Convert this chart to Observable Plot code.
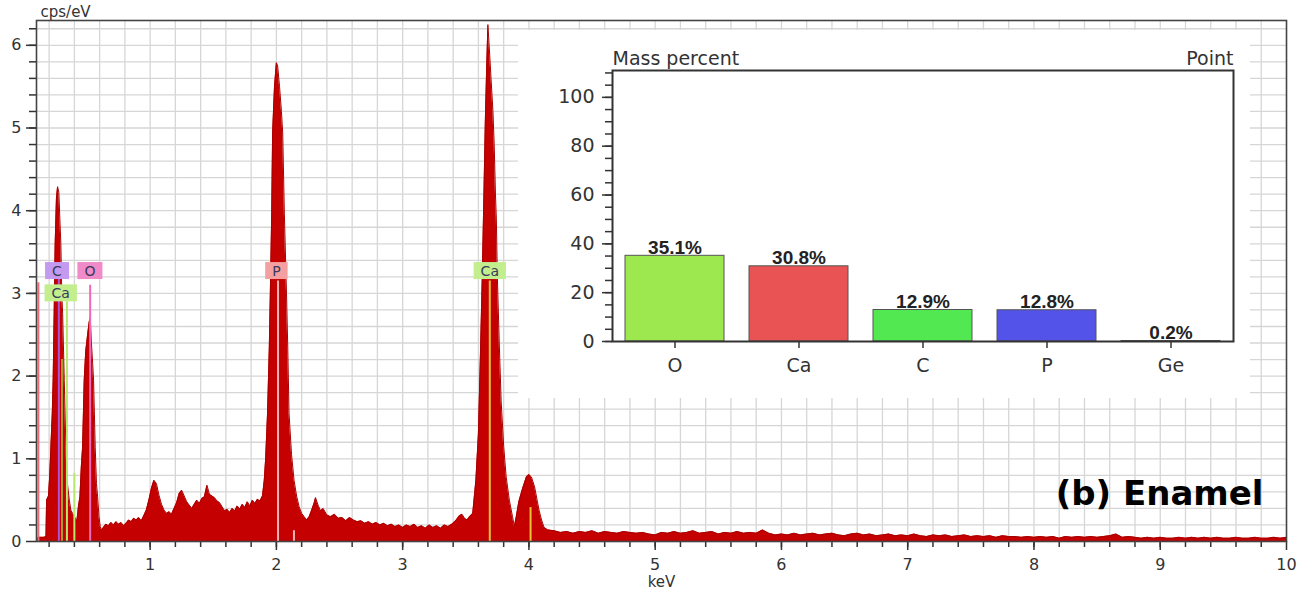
<!DOCTYPE html>
<html><head><meta charset="utf-8">
<script src="https://cdn.jsdelivr.net/npm/d3@7"></script>
<script src="https://cdn.jsdelivr.net/npm/@observablehq/plot@0.6"></script>
<style>
body{margin:0;background:#fff;}
#wrap{position:relative;width:1306px;height:595px;overflow:hidden;background:#fff;}
#inset{position:absolute;left:518px;top:30px;}
#main{position:absolute;left:0;top:0;}
</style></head><body><div id="wrap"><div id="main"></div><div id="inset"></div></div>
<script>
// ---------- Spectrum (keV, cps/eV) ----------
const specKeV = [
0.100,0.120,0.140,0.160,0.175,0.180,0.195,0.205,0.214,0.225,0.232,0.240,0.248,0.258,0.267,0.277,0.285,0.293,0.300,0.307,0.320,0.333,0.345,0.360,0.372,0.386,0.400,0.412,0.420,0.432,0.444,0.455,0.465,0.478,0.490,0.505,0.518,0.526,0.535,0.545,0.552,0.565,0.575,0.584,0.595,0.605,0.615,
0.63,0.65,0.67,0.69,0.71,0.73,0.75,0.77,0.79,0.81,0.83,0.85,0.87,0.89,0.91,0.93,0.95,0.97,0.99,1.01,1.03,1.05,1.07,1.09,1.11,1.13,1.15,1.17,1.19,1.21,1.23,1.25,1.27,1.29,1.31,1.33,1.35,1.37,1.39,1.41,1.43,1.45,1.47,1.49,1.51,1.53,1.55,1.57,1.59,1.61,1.63,1.65,1.67,1.69,1.71,1.73,1.75,1.77,1.79,1.81,1.83,1.85,1.87,
1.89,1.904,1.915,1.93,1.944,1.952,1.963,1.97,1.985,2.0,2.01,2.025,2.04,2.05,2.063,2.08,2.09,2.10,2.12,2.14,2.16,2.18,2.20,2.22,2.24,2.26,2.28,2.30,2.31,2.33,2.35,2.37,2.40,2.43,2.46,2.49,2.52,2.55,2.58,2.61,2.64,2.67,2.70,2.73,2.76,2.79,2.82,2.85,2.88,2.91,2.94,2.97,3.00,3.03,3.06,3.09,3.12,3.15,3.18,3.21,3.24,3.27,3.30,3.33,3.36,3.39,3.42,3.45,3.47,3.49,3.51,3.53,
3.555,3.58,3.60,3.615,3.63,3.645,3.655,3.665,3.675,3.685,3.70,3.715,3.725,3.735,3.742,3.75,3.765,3.78,3.80,3.82,3.845,3.87,3.885,3.90,3.92,3.95,3.98,4.00,4.02,4.045,4.065,4.08,4.10,4.12,4.15,
4.20,4.25,4.30,4.35,4.40,4.45,4.50,4.55,4.60,4.65,4.70,4.75,4.80,4.85,4.90,4.95,5.00,5.05,5.10,5.15,5.20,5.25,5.30,5.35,5.40,5.45,5.50,5.55,5.60,5.65,5.70,5.75,5.80,5.85,5.90,5.95,6.00,6.05,6.10,6.15,6.20,6.25,6.30,6.35,6.40,6.45,6.50,6.55,6.60,6.65,6.70,6.75,6.80,6.85,6.90,6.95,7.00,7.05,7.10,7.15,7.20,7.25,7.30,7.35,7.40,7.45,7.50,7.55,7.60,7.65,7.70,7.75,7.80,7.85,7.90,7.95,8.00,8.05,8.10,8.15,8.20,8.25,8.30,8.35,8.40,8.45,8.50,8.55,8.60,8.65,8.70,8.75,8.80,8.85,8.90,8.95,9.00,9.05,9.10,9.15,9.20,9.25,9.30,9.35,9.40,9.45,9.50,9.55,9.60,9.65,9.70,9.75,9.80,9.85,9.90,9.95,10.00
];
const specCps = [
0.04,0.05,0.05,0.05,0.06,0.50,0.55,0.80,1.14,1.55,1.95,2.76,3.60,4.15,4.29,4.22,3.90,3.60,3.00,2.76,1.95,1.14,0.70,0.50,0.38,0.34,0.30,0.27,0.25,0.42,0.54,0.90,1.14,1.95,2.30,2.50,2.66,2.70,2.40,2.15,1.95,1.14,0.70,0.54,0.30,0.18,0.14,
0.17,0.21,0.19,0.23,0.20,0.24,0.21,0.23,0.19,0.22,0.26,0.24,0.28,0.26,0.29,0.25,0.31,0.38,0.50,0.64,0.74,0.70,0.56,0.45,0.38,0.34,0.36,0.33,0.40,0.47,0.58,0.62,0.55,0.48,0.44,0.40,0.45,0.50,0.46,0.52,0.54,0.68,0.57,0.55,0.53,0.49,0.47,0.42,0.37,0.39,0.35,0.40,0.37,0.43,0.39,0.45,0.41,0.48,0.43,0.50,0.46,0.51,0.49,
0.55,0.74,1.00,1.55,2.35,3.00,3.97,4.94,5.50,5.79,5.75,5.50,5.20,4.94,3.97,3.00,2.35,1.55,1.05,0.74,0.55,0.42,0.34,0.30,0.26,0.30,0.38,0.47,0.53,0.44,0.37,0.40,0.32,0.30,0.33,0.28,0.29,0.25,0.29,0.26,0.24,0.25,0.22,0.24,0.21,0.23,0.20,0.22,0.19,0.21,0.18,0.20,0.17,0.20,0.18,0.21,0.17,0.19,0.16,0.20,0.17,0.19,0.16,0.20,0.18,0.21,0.25,0.31,0.33,0.28,0.26,0.30,
0.34,0.74,1.30,2.20,3.16,4.30,5.10,5.70,6.25,6.00,5.60,5.20,4.80,4.20,3.90,3.20,2.40,1.70,1.15,0.78,0.50,0.30,0.18,0.30,0.48,0.64,0.78,0.81,0.78,0.66,0.50,0.38,0.26,0.17,0.14,
0.13,0.11,0.12,0.10,0.12,0.11,0.13,0.10,0.12,0.11,0.10,0.12,0.11,0.10,0.11,0.09,0.08,0.11,0.10,0.12,0.10,0.11,0.13,0.10,0.11,0.12,0.09,0.11,0.10,0.12,0.10,0.11,0.10,0.14,0.10,0.08,0.09,0.08,0.10,0.08,0.09,0.10,0.08,0.09,0.10,0.08,0.07,0.09,0.10,0.08,0.09,0.07,0.08,0.09,0.07,0.08,0.07,0.09,0.07,0.06,0.08,0.07,0.08,0.06,0.07,0.08,0.06,0.07,0.06,0.07,0.05,0.07,0.06,0.06,0.05,0.06,0.05,0.06,0.05,0.06,0.04,0.06,0.05,0.06,0.05,0.06,0.05,0.06,0.07,0.09,0.05,0.06,0.05,0.04,0.05,0.04,0.05,0.04,0.04,0.05,0.04,0.05,0.04,0.05,0.04,0.05,0.04,0.04,0.05,0.04,0.04,0.05,0.04,0.04,0.05,0.04,0.05
];
const xTickValues = [1,2,3,4,5,6,7,8,9,10];
const yTickValues = [0,1,2,3,4,5,6];

// element marker lines (keV, top in cps/eV)
const lineKeV   = [0.115, 0.277, 0.302, 0.341, 0.400, 0.525, 2.013, 2.139, 3.690, 4.013];
const lineTop   = [3.13, 3.20, 2.20, 2.90, 0.82, 3.10, 3.15, 0.13, 3.15, 0.41];
const lineColor = ["#e8707a","#a855d8","#a89a30","#b6e86a","#b6e86a","#ee6ab8","#f5b5b5","#f5b5b5","#e8c23a","#e8c23a"];

// element labels
const labelText = ["C","O","Ca","P","Ca"];
const labelKeV  = [0.262, 0.523, 0.292, 2.000, 3.690];
const labelCps  = [3.27, 3.27, 3.00, 3.27, 3.27];
const labelFill = ["#c49af0","#f08ac8","#c2ee8e","#f5a0a0","#c2ee8e"];

// inset: mass percent
const elements    = ["O","Ca","C","P","Ge"];
const massPercent = [35.1, 30.8, 12.9, 12.8, 0.2];
const barColors   = ["#9de84e","#ea5353","#52e852","#5353ea","#e8a040"];
const barTicks    = [0,20,40,60,80,100];

// ---------- main spectrum ----------
const spectrum = specKeV.map((k,i)=>({keV:k, cps:specCps[i]}));
const lines = lineKeV.map((k,i)=>({keV:k, top:lineTop[i], color:lineColor[i]}));
const labels = labelText.map((t,i)=>({text:t, keV:labelKeV[i], cps:labelCps[i]}));
const intFmt = d => String(d);

const main = Plot.plot({
  width:1306, height:595,
  marginLeft:36, marginTop:20, marginRight:20, marginBottom:54,
  style:{fontFamily:"DejaVu Sans", fontSize:"15px", color:"#333", background:"#fff"},
  x:{domain:[0.1,10], label:null},
  y:{domain:[0,6.3], label:null},
  color:{type:"identity"},
  marks:[
    Plot.gridX(d3.range(0.2,10,0.2), {stroke:"#d6d6d6", strokeOpacity:1, strokeWidth:1.3}),
    Plot.gridY(d3.range(0.2,6.3,0.2), {stroke:"#d6d6d6", strokeOpacity:1, strokeWidth:1.3}),
    Plot.areaY(spectrum, {x:"keV", y:"cps", fill:"#c40000"}),
    Plot.lineY(spectrum, {x:"keV", y:"cps", stroke:"#a80000", strokeWidth:1}),
    Plot.ruleX(lines, {x:"keV", y1:0, y2:"top", stroke:"color", strokeWidth:2}),
    Plot.text(labels, {x:"keV", y:"cps", text:"text", fontSize:14, fill:"#3a3a5a"}),
    Plot.axisX(xTickValues, {tickSize:9, tickPadding:8, fontSize:16, strokeWidth:1.5, tickFormat:intFmt}),
    Plot.axisX(d3.range(0.2,10,0.2), {tickSize:6, tickFormat:()=>"", strokeWidth:1.5}),
    Plot.axisY(yTickValues, {tickSize:10, tickPadding:5, fontSize:16, strokeWidth:1.5, tickFormat:intFmt}),
    Plot.axisY(d3.range(0.2,6.3,0.2), {tickSize:7, tickFormat:()=>"", strokeWidth:1.5}),
    Plot.frame({stroke:"#444", strokeWidth:1.6}),
    Plot.text(["cps/eV"], {frameAnchor:"top-left", textAnchor:"start", lineAnchor:"middle", dx:4, dy:-8, fontSize:15, fill:"#333"}),
    Plot.text(["keV"], {frameAnchor:"bottom", lineAnchor:"middle", dy:41, fontSize:15, fill:"#333"}),
    Plot.text(["(b) Enamel"], {frameAnchor:"bottom-right", textAnchor:"end", lineAnchor:"middle", dx:-23, dy:-47, fontSize:34, fontWeight:"bold", fill:"#000"})
  ]
});
document.getElementById("main").append(main);

// label boxes behind element labels (first text mark in the chart)
const labelGroup = main.querySelectorAll('g[aria-label="text"]')[0];
labelGroup.querySelectorAll('text').forEach((t,i)=>{
  const b = t.getBBox();
  const r = document.createElementNS("http://www.w3.org/2000/svg","rect");
  const w = b.width + 14, h = 17;
  r.setAttribute("x", b.x + b.width/2 - w/2);
  r.setAttribute("y", b.y + b.height/2 - h/2);
  r.setAttribute("width", w);
  r.setAttribute("height", h);
  r.setAttribute("fill", labelFill[i]);
  if (t.getAttribute("transform")) r.setAttribute("transform", t.getAttribute("transform"));
  t.parentNode.insertBefore(r, t);
});

// ---------- inset bar chart ----------
const bars = elements.map((e,i)=>({el:e, pct:massPercent[i], color:barColors[i]}));
const inset = Plot.plot({
  width:732, height:368,
  marginLeft:94, marginTop:40, marginRight:17, marginBottom:57,
  style:{fontFamily:"DejaVu Sans", fontSize:"19px", color:"#333", background:"#fff"},
  x:{domain:elements, paddingInner:0.2, paddingOuter:0.1, label:null},
  y:{domain:[0,111], label:null},
  color:{type:"identity"},
  marks:[
    Plot.barY(bars, {x:"el", y:"pct", fill:"color", stroke:"#555", strokeWidth:1}),
    Plot.text(bars, {x:"el", y:"pct", text:d=>d.pct.toFixed(1)+"%", lineAnchor:"bottom", dy:-2, fontFamily:"Liberation Sans", fontWeight:"bold", fontSize:19, fill:"#222"}),
    Plot.axisX({tickSize:7, tickPadding:10, fontSize:19, strokeWidth:1.5}),
    Plot.axisY(barTicks, {tickSize:10, tickPadding:8, fontSize:19, strokeWidth:1.5}),
    Plot.axisY(d3.range(0,111,5), {tickSize:7, tickFormat:()=>"", strokeWidth:1.5}),
    Plot.frame({stroke:"#333", strokeWidth:2}),
    Plot.text(["Mass percent"], {frameAnchor:"top-left", textAnchor:"start", lineAnchor:"middle", dy:-12, fontSize:19, fill:"#333"}),
    Plot.text(["Point"], {frameAnchor:"top-right", textAnchor:"end", lineAnchor:"middle", dy:-12, fontSize:19, fill:"#333"})
  ]
});
document.getElementById("inset").append(inset);
</script>
</body></html>
